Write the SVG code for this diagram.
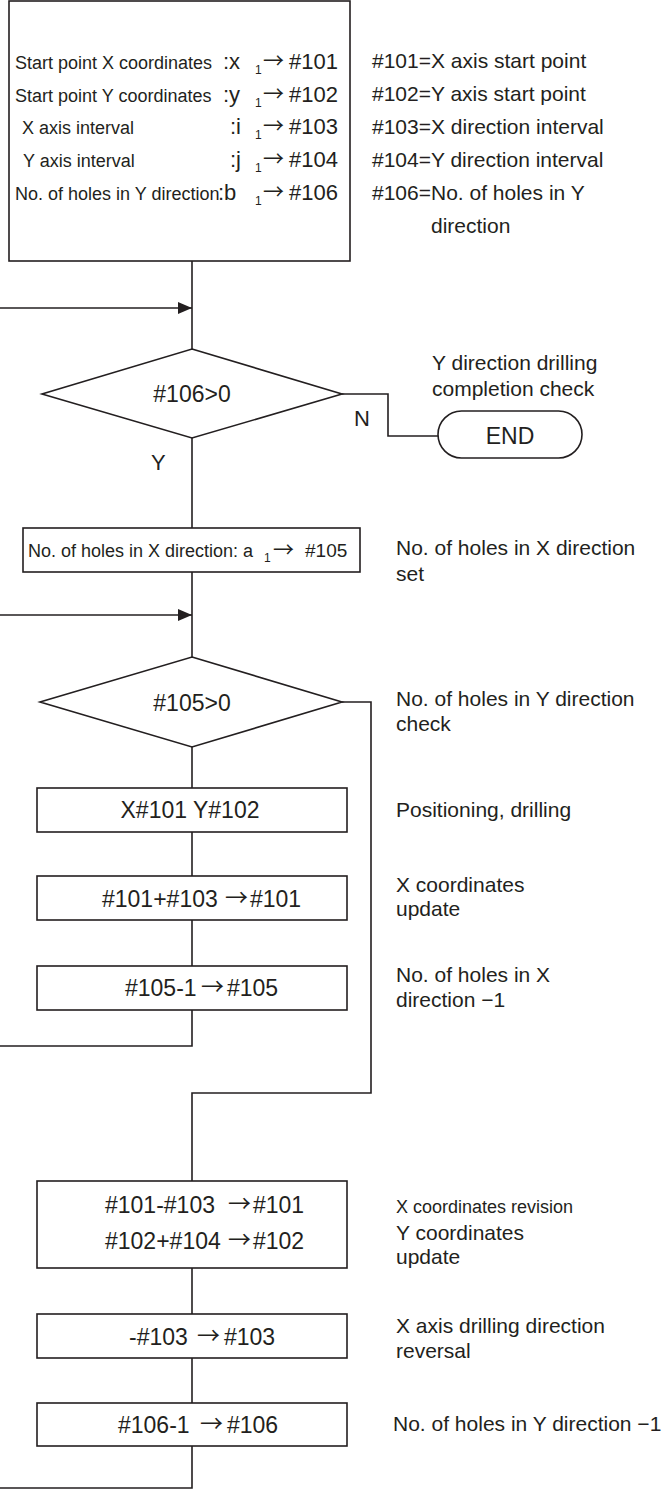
<svg xmlns="http://www.w3.org/2000/svg" width="672" height="1490" viewBox="0 0 672 1490">
<style>
text{font-family:"Liberation Sans",Arial,sans-serif;fill:#231f20}
.ln{fill:none;stroke:#231f20;stroke-width:1.6}
.sh{fill:#fff;stroke:#231f20;stroke-width:1.6}
.s18{font-size:18px}
.s21{font-size:21px}
.s22{font-size:22px}
.s23{font-size:23px}
.sub{font-size:12px}
.ar{font-family:"Noto Sans CJK JP",sans-serif;font-size:21px}
.ab{font-family:"Noto Sans CJK JP",sans-serif;font-size:23px}
.c{text-anchor:middle}
</style>
<defs>
<marker id="ah" markerWidth="14" markerHeight="12" refX="14" refY="6" orient="auto" markerUnits="userSpaceOnUse">
<path d="M0,0 L14,6 L0,12 Z" fill="#231f20"/>
</marker>
</defs>
<rect width="672" height="1490" fill="#fff"/>

<g id="connectors">
<path class="ln" d="M192,261 V349"/>
<path class="ln" d="M0,308 H192" marker-end="url(#ah)"/>
<path class="ln" d="M342,394 H388 V436 H438"/>
<path class="ln" d="M192,438 V528"/>
<path class="ln" d="M192,572 V657"/>
<path class="ln" d="M0,615 H192" marker-end="url(#ah)"/>
<path class="ln" d="M192,747 V788"/>
<path class="ln" d="M192,832 V876"/>
<path class="ln" d="M192,920 V966"/>
<path class="ln" d="M192,1010 V1046 H0"/>
<path class="ln" d="M342,702 H371 V1093 H192 V1181"/>
<path class="ln" d="M192,1268 V1314"/>
<path class="ln" d="M192,1358 V1403"/>
<path class="ln" d="M192,1446 V1488 H0"/>
</g>

<g id="init">
<rect class="sh" x="9" y="1" width="341" height="260"/>
<text class="s18" x="15" y="69">Start point X coordinates</text>
<text class="s18" x="15" y="102">Start point Y coordinates</text>
<text class="s18" x="22" y="134">X axis interval</text>
<text class="s18" x="23" y="167">Y axis interval</text>
<text class="s18" x="15" y="200">No. of holes in Y direction</text>
<text class="s22" y="69"><tspan x="223">:x</tspan><tspan class="sub" x="255" dy="5">1</tspan><tspan class="ar" x="263" dy="-6">→</tspan><tspan x="289" dy="1">#101</tspan></text>
<text class="s22" y="102"><tspan x="223">:y</tspan><tspan class="sub" x="255" dy="5">1</tspan><tspan class="ar" x="263" dy="-6">→</tspan><tspan x="289" dy="1">#102</tspan></text>
<text class="s22" y="134"><tspan x="230">:i</tspan><tspan class="sub" x="255" dy="5">1</tspan><tspan class="ar" x="263" dy="-6">→</tspan><tspan x="289" dy="1">#103</tspan></text>
<text class="s22" y="167"><tspan x="230">:j</tspan><tspan class="sub" x="255" dy="5">1</tspan><tspan class="ar" x="263" dy="-6">→</tspan><tspan x="289" dy="1">#104</tspan></text>
<text class="s22" y="200"><tspan x="218">:b</tspan><tspan class="sub" x="255" dy="5">1</tspan><tspan class="ar" x="263" dy="-6">→</tspan><tspan x="289" dy="1">#106</tspan></text>
</g>

<g id="init-notes">
<text class="s21" x="372" y="68">#101=X axis start point</text>
<text class="s21" x="372" y="101">#102=Y axis start point</text>
<text class="s21" x="372" y="134">#103=X direction interval</text>
<text class="s21" x="372" y="167">#104=Y direction interval</text>
<text class="s21" x="372" y="200">#106=No. of holes in Y</text>
<text class="s21" x="431" y="233">direction</text>
</g>

<g id="check106">
<polygon class="sh" points="192,349 342,394 192,438 42,394"/>
<text class="s23 c" x="192" y="402">#106&gt;0</text>
<text class="s22" x="354" y="426">N</text>
<text class="s22" x="151" y="470">Y</text>
<text class="s21" x="432" y="370">Y direction drilling</text>
<text class="s21" x="432" y="396">completion check</text>
</g>

<g id="end">
<rect class="sh" x="438" y="411" width="144" height="47" rx="23.5"/>
<text class="s23 c" x="510" y="444">END</text>
</g>

<g id="setX">
<rect class="sh" x="23" y="528" width="337" height="44"/>
<text y="557"><tspan class="s18" x="28">No. of holes in X direction: a</tspan><tspan class="sub" x="264" dy="5">1</tspan><tspan class="ar" x="273" dy="-5">→</tspan><tspan style="font-size:19px" x="305" dy="0">#105</tspan></text>
<text class="s21" x="396" y="555">No. of holes in X direction</text>
<text class="s21" x="396" y="581">set</text>
</g>

<g id="check105">
<polygon class="sh" points="192,657 342,702 192,747 40,702"/>
<text class="s23 c" x="192" y="711">#105&gt;0</text>
<text class="s21" x="396" y="706">No. of holes in Y direction</text>
<text class="s21" x="396" y="731">check</text>
</g>

<g id="drill">
<rect class="sh" x="37" y="788" width="310" height="44"/>
<text class="s23 c" x="190" y="818">X#101 Y#102</text>
<text class="s21" x="396" y="817">Positioning, drilling</text>
</g>

<g id="updX">
<rect class="sh" x="37" y="876" width="310" height="44"/>
<text class="s23" y="907"><tspan x="102">#101+#103</tspan><tspan class="ab" x="225" dy="-1">→</tspan><tspan x="250" dy="1">#101</tspan></text>
<text class="s21" x="396" y="892">X coordinates</text>
<text class="s21" x="396" y="916">update</text>
</g>

<g id="dec105">
<rect class="sh" x="37" y="966" width="310" height="44"/>
<text class="s23" y="996"><tspan x="125">#105-1</tspan><tspan class="ab" x="201" dy="-1">→</tspan><tspan x="227" dy="1">#105</tspan></text>
<text class="s21" x="396" y="982">No. of holes in X</text>
<text class="s21" x="396" y="1007">direction −1</text>
</g>

<g id="updY">
<rect class="sh" x="37" y="1181" width="310" height="87"/>
<text class="s23" y="1213"><tspan x="105">#101-#103</tspan><tspan class="ab" x="228" dy="-1">→</tspan><tspan x="253" dy="1">#101</tspan></text>
<text class="s23" y="1249"><tspan x="105">#102+#104</tspan><tspan class="ab" x="228" dy="-1">→</tspan><tspan x="253" dy="1">#102</tspan></text>
<text class="s18" x="396" y="1213">X coordinates revision</text>
<text class="s21" x="396" y="1240">Y coordinates</text>
<text class="s21" x="396" y="1264">update</text>
</g>

<g id="rev103">
<rect class="sh" x="37" y="1314" width="310" height="44"/>
<text class="s23" y="1345"><tspan x="129">-#103</tspan><tspan class="ab" x="197" dy="-1">→</tspan><tspan x="224" dy="1">#103</tspan></text>
<text class="s21" x="396" y="1333">X axis drilling direction</text>
<text class="s21" x="396" y="1358">reversal</text>
</g>

<g id="dec106">
<rect class="sh" x="37" y="1403" width="310" height="43"/>
<text class="s23" y="1433"><tspan x="118">#106-1</tspan><tspan class="ab" x="200" dy="-1">→</tspan><tspan x="227" dy="1">#106</tspan></text>
<text class="s21" x="393" y="1431">No. of holes in Y direction −1</text>
</g>
</svg>
